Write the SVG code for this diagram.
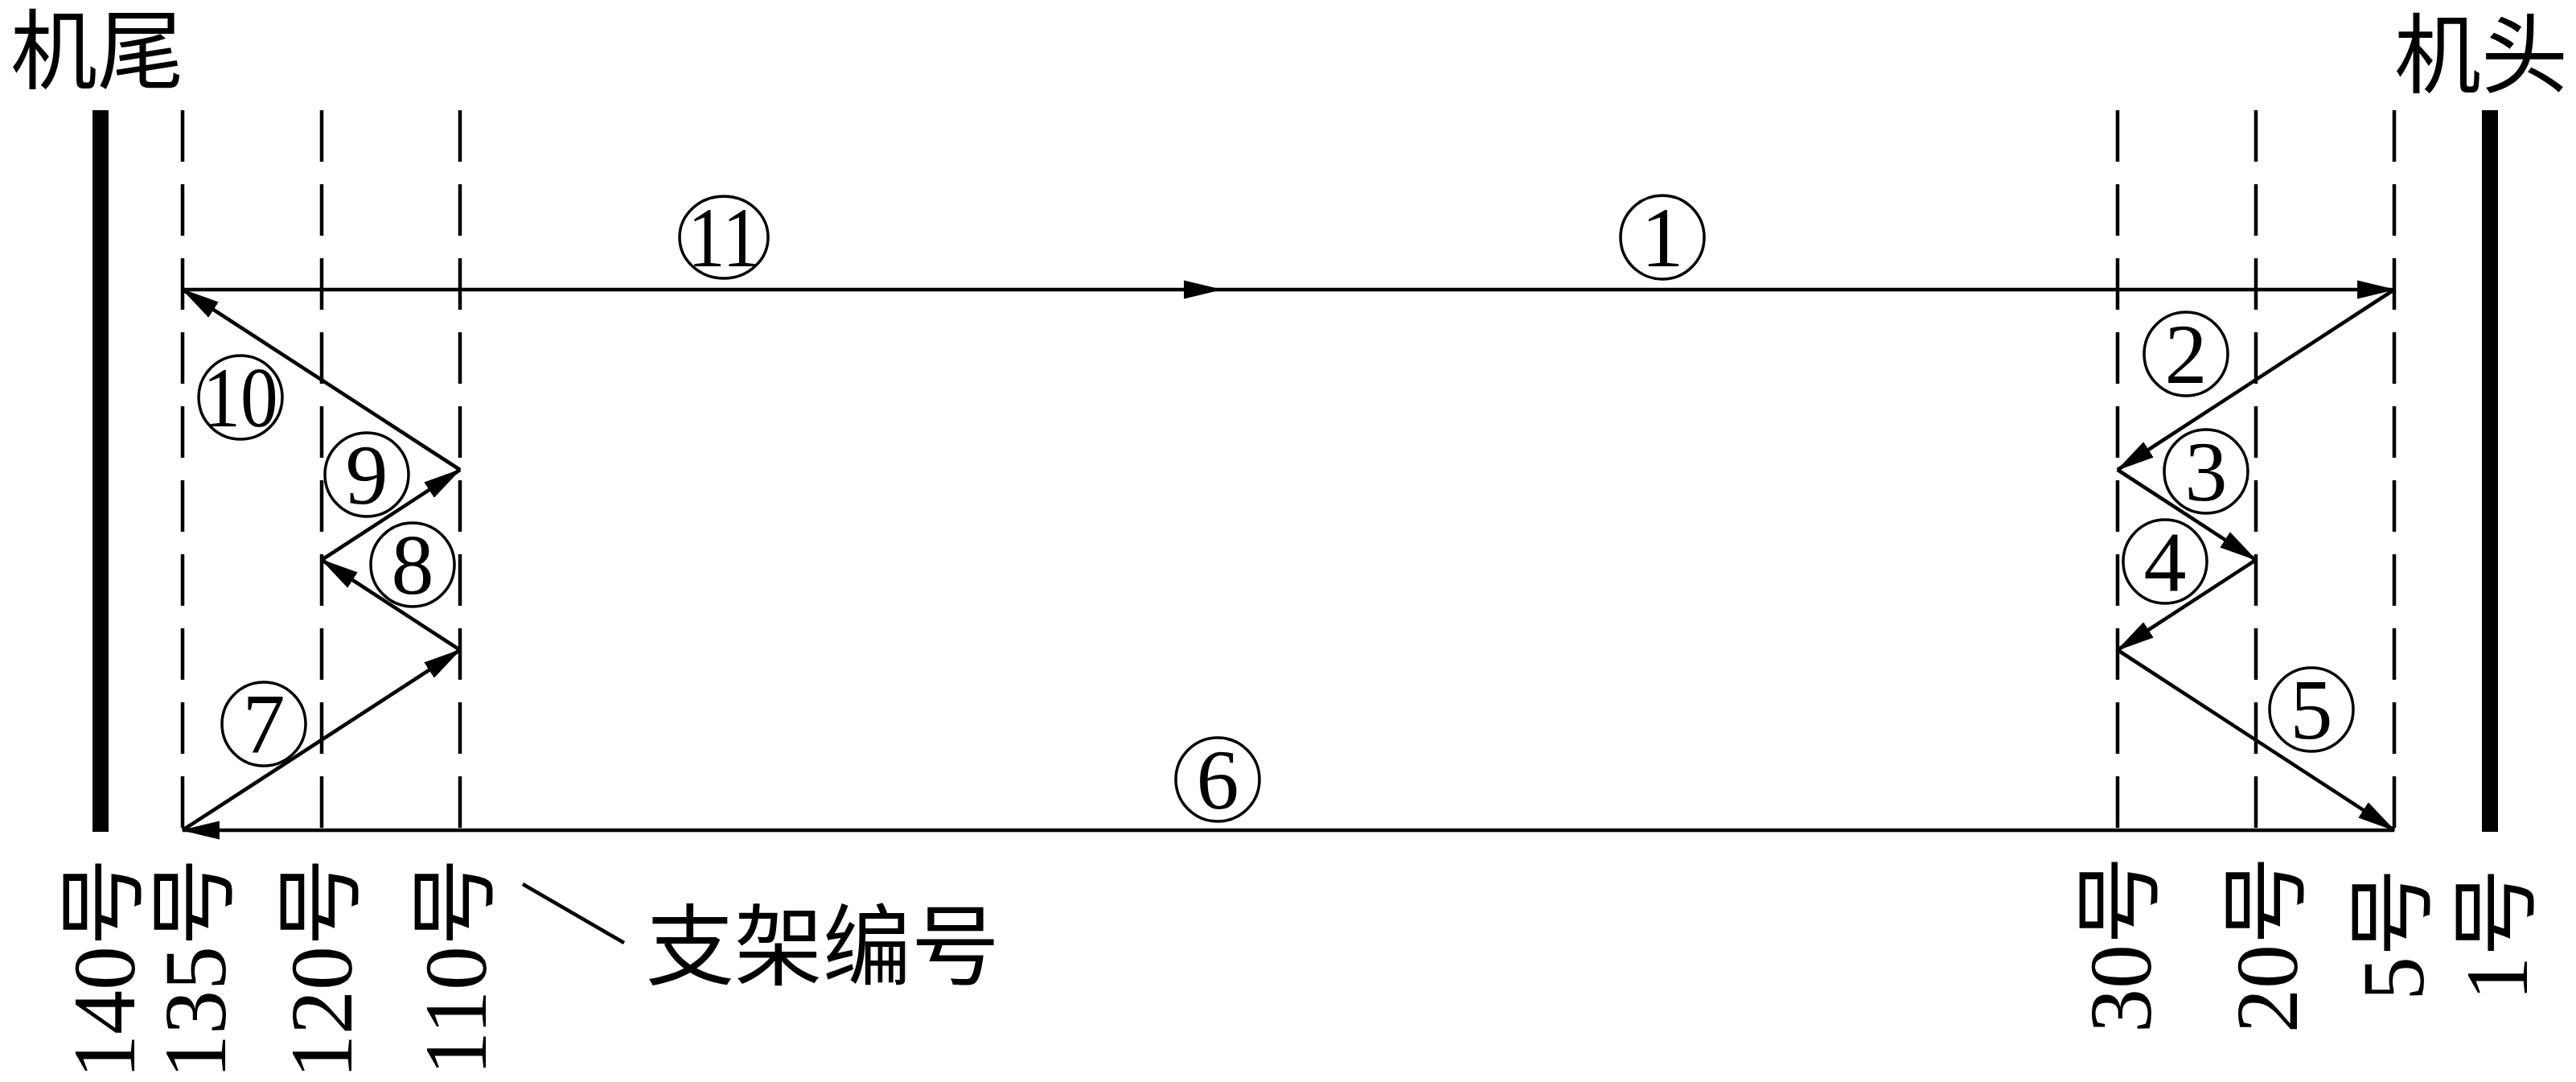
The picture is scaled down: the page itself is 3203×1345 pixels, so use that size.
<svg xmlns="http://www.w3.org/2000/svg" width="3203" height="1345" viewBox="0 0 3203 1345">
<style>
.bg{fill:#fff}
.bar{fill:#000}
.dash{stroke:#000;stroke-width:4.5;stroke-dasharray:64 28;fill:none}
.conn{stroke:#000;stroke-width:4.5;fill:none;marker-end:url(#arrow)}
.plain{stroke:#000;stroke-width:4.5;fill:none}
.ring{fill:none;stroke:#000;stroke-width:3.5}
.num{font-family:"Liberation Serif","Times New Roman",serif;font-size:106px;fill:#000;text-anchor:middle}
.cjk{font-family:"Noto Sans CJK SC","Noto Sans CJK JP",sans-serif;font-size:110px;fill:#000}
.title{font-family:"Liberation Serif","Noto Sans CJK SC",serif;font-size:108px;fill:#000}
.vlab{font-family:"Liberation Serif","Noto Sans CJK SC",serif;font-size:110px;fill:#000;text-anchor:end}
</style>
<defs>
<marker id="arrow" markerUnits="userSpaceOnUse" markerWidth="48" markerHeight="24" viewBox="0 0 46 22" refX="44" refY="11" orient="auto">
<path d="M0,0 L46,11 L0,22 Z" fill="#000"/>
</marker>
</defs>
<rect class="bg" x="0" y="0" width="3203" height="1345"/>

<g id="tail">
<rect class="bar" x="115" y="137" width="20" height="897"/>
<text class="title" x="13" y="102">机尾</text>
</g>
<g id="head">
<rect class="bar" x="3086" y="137" width="20" height="897"/>
<text class="title" x="2977" y="107">机头</text>
</g>

<g id="support-140"><text class="vlab" transform="translate(167,1066) rotate(-90)">140号</text></g>
<g id="support-135">
<line class="dash" x1="227" y1="137" x2="227" y2="1030"/>
<text class="vlab" transform="translate(280,1066) rotate(-90)">135号</text>
</g>
<g id="support-120">
<line class="dash" x1="400" y1="137" x2="400" y2="1030"/>
<text class="vlab" transform="translate(437,1066) rotate(-90)">120号</text>
</g>
<g id="support-110">
<line class="dash" x1="572" y1="137" x2="572" y2="1030"/>
<text class="vlab" transform="translate(604,1066) rotate(-90)">110号</text>
</g>
<g id="support-30">
<line class="dash" x1="2633" y1="137" x2="2633" y2="1030"/>
<text class="vlab" transform="translate(2674,1064) rotate(-90)">30号</text>
</g>
<g id="support-20">
<line class="dash" x1="2805" y1="137" x2="2805" y2="1030"/>
<text class="vlab" transform="translate(2856,1064) rotate(-90)">20号</text>
</g>
<g id="support-5">
<line class="dash" x1="2977" y1="137" x2="2977" y2="1030"/>
<text class="vlab" transform="translate(3013,1079) rotate(-90)">5号</text>
</g>
<g id="support-1"><text class="vlab" transform="translate(3142,1079) rotate(-90)">1号</text></g>

<g id="legend">
<line class="plain" x1="650" y1="1099" x2="776" y2="1172"/>
<text class="cjk" x="803" y="1216">支架编号</text>
</g>

<g id="connectors">
<line class="conn" x1="227" y1="360" x2="1518" y2="360"/>
<line class="conn" x1="1518" y1="360" x2="2977" y2="360"/>
<line class="conn" x1="2977" y1="360" x2="2633" y2="584"/>
<line class="conn" x1="2633" y1="584" x2="2805" y2="696"/>
<line class="conn" x1="2805" y1="696" x2="2633" y2="808"/>
<line class="conn" x1="2633" y1="808" x2="2977" y2="1032"/>
<line class="conn" x1="2977" y1="1032" x2="227" y2="1032"/>
<line class="conn" x1="227" y1="1032" x2="572" y2="808"/>
<line class="conn" x1="572" y1="808" x2="400" y2="696"/>
<line class="conn" x1="400" y1="696" x2="572" y2="584"/>
<line class="conn" x1="572" y1="584" x2="227" y2="360"/>
</g>

<g id="step-1"><circle class="ring" cx="2067" cy="295" r="52"/><text class="num" x="2067" y="331">1</text></g>
<g id="step-2"><circle class="ring" cx="2718" cy="440" r="52"/><text class="num" x="2718" y="476">2</text></g>
<g id="step-3"><circle class="ring" cx="2743" cy="586" r="52"/><text class="num" x="2743" y="622">3</text></g>
<g id="step-4"><circle class="ring" cx="2692" cy="698" r="52"/><text class="num" x="2692" y="734">4</text></g>
<g id="step-5"><circle class="ring" cx="2874" cy="882" r="52"/><text class="num" x="2874" y="918">5</text></g>
<g id="step-6"><circle class="ring" cx="1514" cy="969" r="52"/><text class="num" x="1514" y="1005">6</text></g>
<g id="step-7"><circle class="ring" cx="328" cy="900" r="52"/><text class="num" x="328" y="936">7</text></g>
<g id="step-8"><circle class="ring" cx="513" cy="702" r="52"/><text class="num" x="513" y="738">8</text></g>
<g id="step-9"><circle class="ring" cx="456" cy="590" r="52"/><text class="num" x="456" y="626">9</text></g>
<g id="step-10"><circle class="ring" cx="299" cy="494" r="52"/><text class="num" transform="translate(299,530) scale(0.88,1)">10</text></g>
<g id="step-11"><ellipse class="ring" cx="900" cy="295" rx="55" ry="51"/><text class="num" transform="translate(900,331) scale(0.88,1)">11</text></g>
</svg>
